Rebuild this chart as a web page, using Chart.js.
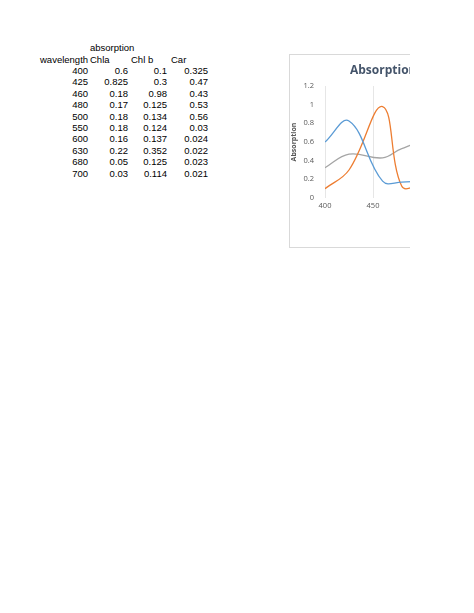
<!DOCTYPE html>
<html>
<head>
<meta charset="utf-8">
<script src="https://cdn.jsdelivr.net/npm/chart.js@4"></script>
<style>
  body { margin: 0; background: #fff; width: 474px; height: 613px; position: relative; font-family: "Liberation Sans", Arial, sans-serif; font-size: 9.5px; color: #000; }
  .c { position: absolute; white-space: nowrap; }
  .r { text-align: right; width: 40px; }
  #box { position: absolute; left: 289px; top: 54px; width: 121px; height: 194px; overflow: hidden; border: 1px solid #d9d9d9; border-right: none; box-sizing: border-box; }
  #inner { position: absolute; left: 0; top: 0; width: 340px; height: 194px; }
  #ttl { position: absolute; left: 60px; top: 6px; font: bold 12px "Open Sans", sans-serif; color: #44546a; white-space: nowrap; }
</style>
</head>
<body>
<div id="table"></div>
<div id="box">
  <div id="inner"><canvas id="chart"></canvas></div>
  <div id="ttl">Absorption</div>
</div>
<script>
// Spreadsheet data
const wavelength = [400, 425, 460, 480, 500, 550, 600, 630, 680, 700];
const chla = [0.6, 0.825, 0.18, 0.17, 0.18, 0.18, 0.16, 0.22, 0.05, 0.03];
const chlb = [0.1, 0.3, 0.98, 0.125, 0.134, 0.124, 0.137, 0.352, 0.125, 0.114];
const car = [0.325, 0.47, 0.43, 0.53, 0.56, 0.03, 0.024, 0.022, 0.023, 0.021];

// Table cells
let html = '';
html += '<div class="c" style="left:90px;top:42px">absorption</div>';
html += '<div class="c" style="left:40px;top:54px">wavelength</div>';
html += '<div class="c" style="left:90px;top:54px">Chla</div>';
html += '<div class="c" style="left:131px;top:54px">Chl b</div>';
html += '<div class="c" style="left:171px;top:54px">Car</div>';
const cols = [[wavelength, 48], [chla, 88], [chlb, 127], [car, 168]];
wavelength.forEach((w, i) => {
    const top = 65 + i * 11.4;
    cols.forEach(([arr, left]) => {
        html += `<div class="c r" style="left:${left}px;top:${top}px">${arr[i]}</div>`;
    });
});
document.getElementById('table').innerHTML = html;

const pts = arr => wavelength.map((w, i) => ({ x: w, y: arr[i] }));
const tickFont = { size: 7.5, family: 'Open Sans' };

new Chart(document.getElementById('chart'), {
    type: 'scatter',
    data: {
        datasets: [
            { label: 'Chla', data: pts(chla), borderColor: '#5b9bd5' },
            { label: 'Chl b', data: pts(chlb), borderColor: '#ed7d31' },
            { label: 'Car', data: pts(car), borderColor: '#a5a5a5' }
        ].map(d => Object.assign(d, { showLine: true, pointRadius: 0, borderWidth: 1.3, tension: 0.4 }))
    },
    options: {
        responsive: true, maintainAspectRatio: false, animation: false,
        layout: { padding: { top: 31, right: 17, left: 0, bottom: 0 } },
        plugins: { legend: { display: false }, tooltip: { enabled: false } },
        scales: {
            x: {
                min: 400, max: 700,
                ticks: { stepSize: 50, color: '#595959', font: tickFont },
                grid: { color: '#e6e6e6', drawTicks: false },
                border: { display: false },
                afterFit: s => { s.height = 51; }
            },
            y: {
                min: 0, max: 1.2,
                ticks: { stepSize: 0.2, color: '#595959', font: tickFont, callback: v => +v.toFixed(1) },
                grid: { display: false },
                border: { display: false },
                title: { display: true, text: 'Absorption', color: '#595959', font: { size: 7, weight: 'bold', family: 'Open Sans' }, padding: 0 },
                afterFit: s => { s.width = 35; }
            }
        }
    }
});
</script>
</body>
</html>
